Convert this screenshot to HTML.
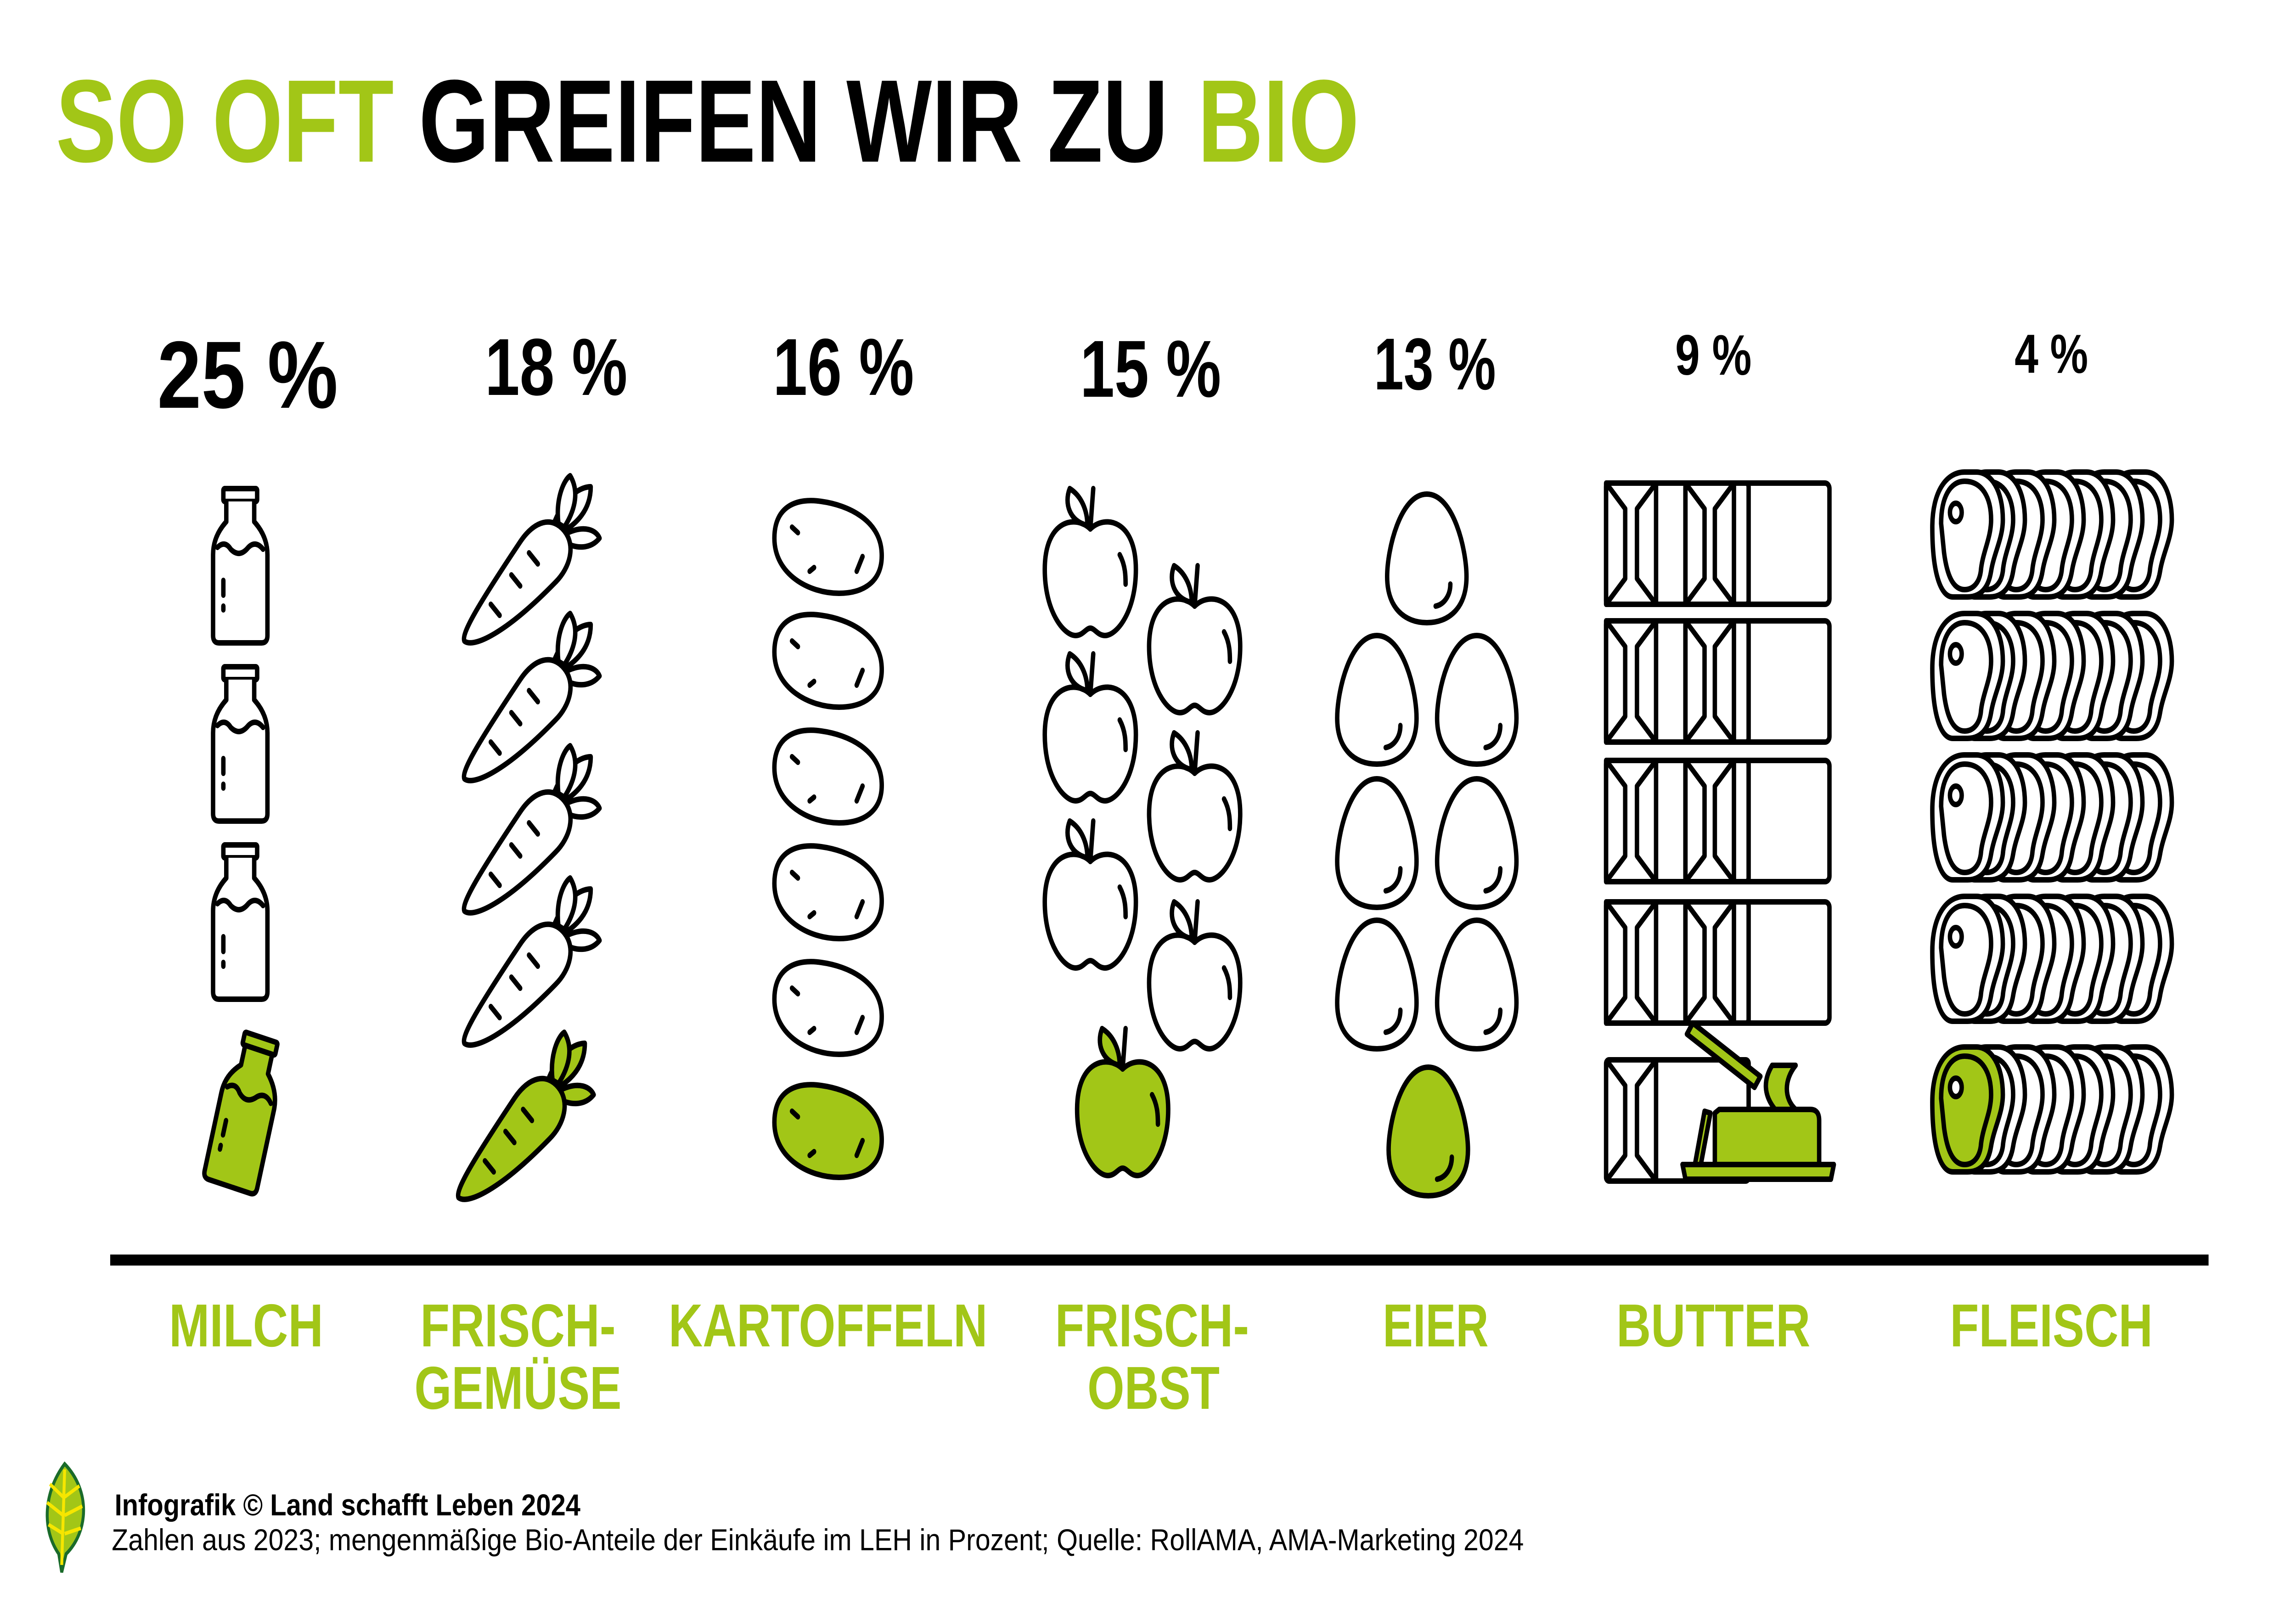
<!DOCTYPE html>
<html><head><meta charset="utf-8"><style>
html,body{margin:0;padding:0;background:#fff;width:100%;height:100%;overflow:hidden}
svg{display:block;width:100vw;height:100vh}
text{font-family:"Liberation Sans",sans-serif;font-weight:bold}
</style></head><body>
<svg viewBox="0 0 1562.5 879.25" preserveAspectRatio="none" xmlns="http://www.w3.org/2000/svg">
<defs>
<g id="bottle" fill="#fff" stroke="#000" stroke-width="3" stroke-linejoin="round" stroke-linecap="round">
  <rect x="7" y="0" width="23" height="7" rx="1"/>
  <path d="M9,7 L9,18 Q0,26 0,36 L0,80 Q0,84 4,84 L33,84 Q37,84 37,80 L37,36 Q37,26 28,18 L28,7"/>
  <path d="M3,32 Q8,28 12,33 Q18,38 24,32 Q29,28 34,33" fill="none"/>
  <path d="M7,50 L7,58 M7,64 L7,66" fill="none"/>
</g>
<g id="carrot" stroke="#000" stroke-width="3" stroke-linejoin="round" stroke-linecap="round">
  <path d="M62,22 C70,4 82,0 88,0 C88,10 82,18 70,24 Z"/>
  <path d="M66,20 C64,6 70,-4 74,-6 C80,2 78,12 70,22 Z"/>
  <path d="M70,26 C84,20 92,24 94,28 C88,34 78,34 70,30 Z"/>
  <path d="M2,84 C0,80 10,66 40,30 C50,18 62,16 70,24 C78,32 74,44 64,52 C30,80 8,88 2,84 Z"/>
  <path d="M20,64 L26,70 M34,48 L40,54 M46,36 L52,42" fill="none"/>
</g>
<g id="potato" stroke="#000" stroke-width="3" stroke-linecap="round">
  <path d="M-36,-4 C-36,-22 -20,-26 -4,-24 C14,-22 36,-14 37,4 C38,20 24,26 8,26 C-12,26 -36,16 -36,-4 Z"/>
  <path d="M-24,-10 L-20,-7 M-12,14 L-9,12 M24,6 L20,14" fill="none"/>
</g>
<g id="apple" stroke="#000" stroke-width="3" stroke-linejoin="round" stroke-linecap="round">
  <path d="M0,-20 C-10,-28 -31,-25 -31,2 C-31,25 -18,38 -10,38 C-5,38 -3,34 0,34 C3,34 5,38 10,38 C18,38 31,25 31,2 C31,-25 10,-28 0,-20 Z"/>
  <path d="M0,-20 L2,-42" fill="none"/>
  <path d="M-2,-22 C-14,-24 -18,-34 -14,-42 C-6,-38 -2,-30 -2,-22 Z"/>
  <path d="M20,-6 C24,0 24,6 24,10" fill="none"/>
</g>
<g id="egg" stroke="#000" stroke-width="3" stroke-linecap="round">
  <path d="M0,-35 C18,-35 27,-5 27,10 C27,27 15,35 0,35 C-15,35 -27,27 -27,10 C-27,-5 -18,-35 0,-35 Z"/>
  <path d="M16,14 C16,20 12,25 6,26" fill="none"/>
</g>
<g id="carton" fill="#fff" stroke="#000" stroke-width="3" stroke-linejoin="round">
  <rect x="54" y="0" width="98" height="66" rx="3"/>
  <rect x="0" y="0" width="97" height="66" rx="2" fill="none"/>
  <rect x="0" y="0" width="34" height="66" fill="#fff"/>
  <path d="M0,0 L13,14 L13,52 L0,66 M34,0 L21,14 L21,52 L34,66" fill="none"/>
  <rect x="54" y="0" width="33" height="66" fill="#fff"/>
  <path d="M54,0 L67,14 L67,52 L54,66 M87,0 L74,14 L74,52 L87,66" fill="none"/>
</g>
<g id="steak" fill="#fff" stroke="#000" stroke-width="3" stroke-linejoin="round" stroke-linecap="round">
  <path d="M22,0 L30,0 C40,0 48,10 48,26 C48,36 42,44 40,54 C38,64 32,68 24,68 L14,68 C6,68 0,56 0,30 C0,10 10,0 22,0 Z"/>
  <path d="M22,5 C34,5 40,14 40,26 C40,36 34,44 33,54 C32,60 28,64 22,64 C14,64 10,56 8,44 L6,28 C6,14 12,5 22,5 Z" fill="none"/>
  <ellipse cx="16" cy="22" rx="4" ry="5" fill="#fff"/>
</g>
<g id="meatrow">
  <use href="#steak" x="1430" y="0"/>
  <use href="#steak" x="1410" y="0"/>
  <use href="#steak" x="1390" y="0"/>
  <use href="#steak" x="1370" y="0"/>
  <use href="#steak" x="1350" y="0"/>
  <use href="#steak" x="1330" y="0"/>
</g>
</defs>

<text x="38" y="88" font-size="64" fill="#a2c617" textLength="230" lengthAdjust="spacingAndGlyphs">SO OFT</text>
<text x="285" y="88" font-size="64" fill="#000" textLength="510" lengthAdjust="spacingAndGlyphs">GREIFEN WIR ZU</text>
<text x="815" y="88" font-size="64" fill="#a2c617" textLength="110" lengthAdjust="spacingAndGlyphs">BIO</text>

<g fill="#000">
<text x="107" y="222" font-size="52" textLength="123" lengthAdjust="spacingAndGlyphs">25 %</text>
<text x="330" y="215" font-size="44" textLength="97" lengthAdjust="spacingAndGlyphs">18 %</text>
<text x="526" y="215" font-size="44" textLength="96" lengthAdjust="spacingAndGlyphs">16 %</text>
<text x="735" y="216" font-size="44" textLength="96" lengthAdjust="spacingAndGlyphs">15 %</text>
<text x="935" y="212" font-size="40" textLength="83" lengthAdjust="spacingAndGlyphs">13 %</text>
<text x="1140" y="204" font-size="31" textLength="52" lengthAdjust="spacingAndGlyphs">9 %</text>
<text x="1371" y="203" font-size="30" textLength="50" lengthAdjust="spacingAndGlyphs">4 %</text>
</g>

<use href="#bottle" x="145" y="266"/>
<use href="#bottle" x="145" y="363"/>
<use href="#bottle" x="145" y="460"/>
<g transform="translate(160,560) rotate(15)" fill="#a2c617" stroke="#000" stroke-width="3" stroke-linejoin="round" stroke-linecap="round">
  <rect x="7" y="0" width="23" height="7" rx="1"/>
  <path d="M9,7 L9,18 Q0,26 0,36 L0,80 Q0,84 4,84 L33,84 Q37,84 37,80 L37,36 Q37,26 28,18 L28,7 Z"/>
  <path d="M3,32 Q8,28 12,33 Q18,38 24,32 Q29,28 34,33" fill="none"/>
  <path d="M7,50 L7,58 M7,64 L7,66" fill="none"/>
</g>

<g fill="#fff">
<use href="#carrot" x="314" y="265"/>
<use href="#carrot" x="314" y="340"/>
<use href="#carrot" x="314" y="412"/>
<use href="#carrot" x="314" y="484"/>
</g>
<g fill="#a2c617"><use href="#carrot" x="310" y="568"/></g>

<g fill="#fff">
<use href="#potato" x="563" y="297"/>
<use href="#potato" x="563" y="359"/>
<use href="#potato" x="563" y="422"/>
<use href="#potato" x="563" y="485"/>
<use href="#potato" x="563" y="548"/>
</g>
<g fill="#a2c617"><use href="#potato" x="563" y="615"/></g>

<g fill="#fff">
<use href="#apple" x="742" y="308"/>
<use href="#apple" x="742" y="398"/>
<use href="#apple" x="742" y="489"/>
<use href="#apple" x="813" y="350"/>
<use href="#apple" x="813" y="441"/>
<use href="#apple" x="813" y="533"/>
</g>
<g fill="#a2c617"><use href="#apple" x="764" y="602"/></g>

<g fill="#fff">
<use href="#egg" x="971" y="304"/>
<use href="#egg" x="937" y="381"/>
<use href="#egg" x="1005" y="381"/>
<use href="#egg" x="937" y="459"/>
<use href="#egg" x="1005" y="459"/>
<use href="#egg" x="937" y="536"/>
<use href="#egg" x="1005" y="536"/>
</g>
<g fill="#a2c617"><use href="#egg" x="972" y="616"/></g>

<use href="#carton" x="1093" y="263"/>
<use href="#carton" x="1093" y="338"/>
<use href="#carton" x="1093" y="414"/>
<use href="#carton" x="1093" y="491"/>
<g fill="#fff" stroke="#000" stroke-width="3" stroke-linejoin="round">
  <rect x="1093" y="577" width="97" height="66" rx="2"/>
  <path d="M1093,577 L1106,591 L1106,629 L1093,643 M1127,577 L1114,591 L1114,629 L1127,643" fill="none"/>
  <line x1="1127" y1="577" x2="1127" y2="643"/>
</g>
<g fill="#a2c617" stroke="#000" stroke-width="3" stroke-linejoin="round" stroke-linecap="round">
  <path d="M1148,563 L1152,557 L1198,586 L1194,592 Z"/>
  <path d="M1160,605 L1164,606 L1157,636 L1153,636 Z"/>
  <path d="M1170,604 L1232,604 Q1238,604 1238,610 L1238,634 L1167,634 L1167,606 Z"/>
  <path d="M1208,604 C1200,596 1200,588 1206,580 L1222,580 C1214,588 1214,598 1222,604 Z"/>
  <path d="M1145,634 L1248,634 L1246,642 L1147,642 Z"/>
</g>

<use href="#meatrow" y="257"/><use href="#steak" x="1315" y="257"/>
<use href="#meatrow" y="334"/><use href="#steak" x="1315" y="334"/>
<use href="#meatrow" y="411"/><use href="#steak" x="1315" y="411"/>
<use href="#meatrow" y="488"/><use href="#steak" x="1315" y="488"/>
<use href="#meatrow" y="570"/>
<g transform="translate(1315,570)" fill="#a2c617" stroke="#000" stroke-width="3" stroke-linejoin="round" stroke-linecap="round">
  <path d="M22,0 L30,0 C40,0 48,10 48,26 C48,36 42,44 40,54 C38,64 32,68 24,68 L14,68 C6,68 0,56 0,30 C0,10 10,0 22,0 Z"/>
  <path d="M22,5 C34,5 40,14 40,26 C40,36 34,44 33,54 C32,60 28,64 22,64 C14,64 10,56 8,44 L6,28 C6,14 12,5 22,5 Z" fill="none"/>
  <ellipse cx="16" cy="22" rx="4" ry="5" fill="#fff"/>
</g>

<rect x="75" y="683" width="1428" height="6" fill="#000"/>

<g fill="#a2c617" font-size="33">
<text x="115" y="733" textLength="105" lengthAdjust="spacingAndGlyphs">MILCH</text>
<text x="286" y="733" textLength="133" lengthAdjust="spacingAndGlyphs">FRISCH-</text>
<text x="282" y="767" textLength="141" lengthAdjust="spacingAndGlyphs">GEMÜSE</text>
<text x="455" y="733" textLength="217" lengthAdjust="spacingAndGlyphs">KARTOFFELN</text>
<text x="718" y="733" textLength="132" lengthAdjust="spacingAndGlyphs">FRISCH-</text>
<text x="740" y="767" textLength="90" lengthAdjust="spacingAndGlyphs">OBST</text>
<text x="941" y="733" textLength="72" lengthAdjust="spacingAndGlyphs">EIER</text>
<text x="1100" y="733" textLength="132" lengthAdjust="spacingAndGlyphs">BUTTER</text>
<text x="1327" y="733" textLength="138" lengthAdjust="spacingAndGlyphs">FLEISCH</text>
</g>

<g stroke="#1a6b2a" stroke-width="2">
  <path d="M44,797 C30,812 28,832 40,846 L42,856 L45,846 C60,834 62,812 44,797 Z" fill="#a2c617"/>
  <path d="M44,800 L42,852 M43,815 L34,808 M43,825 L32,818 M43,835 L33,830 M44,815 L54,809 M44,825 L56,820 M44,835 L55,832" fill="none" stroke="#f6e600" stroke-width="2"/>
</g>
<text x="78" y="825" font-size="16.5" fill="#000" textLength="317" lengthAdjust="spacingAndGlyphs">Infografik © Land schafft Leben 2024</text>
<text x="76" y="844" font-size="16.5" fill="#000" style="font-weight:normal" textLength="961" lengthAdjust="spacingAndGlyphs">Zahlen aus 2023; mengenmäßige Bio-Anteile der Einkäufe im LEH in Prozent; Quelle: RollAMA, AMA-Marketing 2024</text>
</svg>
</body></html>
